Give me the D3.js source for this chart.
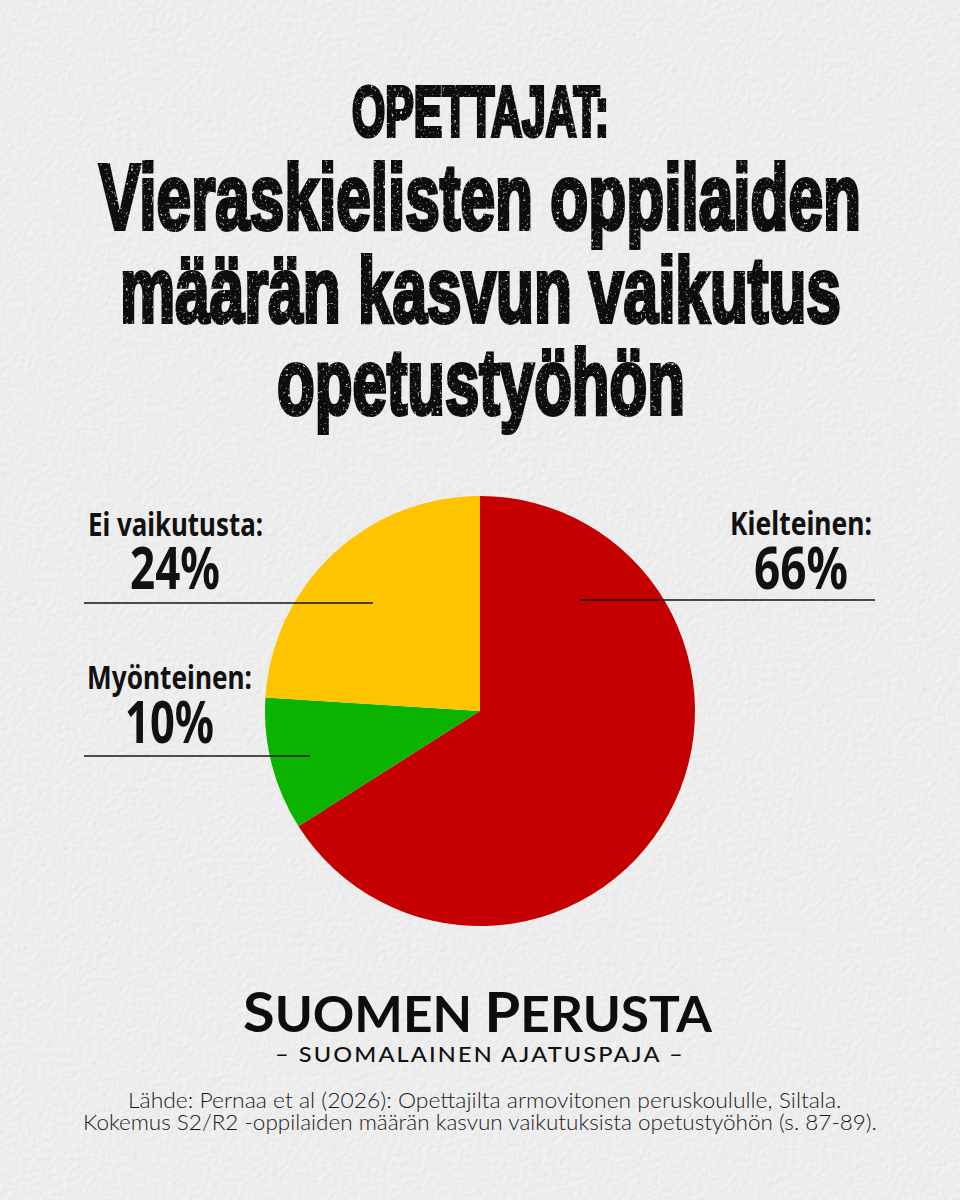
<!DOCTYPE html>
<html>
<head>
<meta charset="utf-8">
<script src="https://cdn.jsdelivr.net/npm/d3@7"></script>
<style>
  html, body { margin: 0; padding: 0; background: #eee; }
  svg { display: block; }
</style>
</head>
<body>
<svg id="chart" width="960" height="1200"></svg>
<script>
// data
const categories = ["Kielteinen", "Myönteinen", "Ei vaikutusta"];
const values = [66, 10, 24];
const sliceColors = ["#c40000", "#09b300", "#fec400"];
const titleKicker = "OPETTAJAT:";
const titleLines = ["Vieraskielisten oppilaiden", "määrän kasvun vaikutus", "opetustyöhön"];
const sourceLines = [
    "Lähde: Pernaa et al (2026): Opettajilta armovitonen peruskoululle, Siltala.",
    "Kokemus S2/R2 -oppilaiden määrän kasvun vaikutuksista opetustyöhön (s. 87-89)."
];

const width = 960, height = 1200;
const svg = d3.select("#chart");
const defs = svg.append("defs");

// paper texture
const paper = defs.append("filter").attr("id", "paper")
    .attr("x", 0).attr("y", 0).attr("width", "100%").attr("height", "100%");
paper.append("feTurbulence").attr("type", "fractalNoise").attr("baseFrequency", 0.2)
    .attr("numOctaves", 4).attr("seed", 7).attr("result", "n");
const light = paper.append("feDiffuseLighting").attr("in", "n").attr("surfaceScale", 0.32)
    .attr("diffuseConstant", 1.09).attr("lighting-color", "#f1f1f1");
light.append("feDistantLight").attr("azimuth", 225).attr("elevation", 62);

// worn print look for the headline
const worn = defs.append("filter").attr("id", "worn")
    .attr("x", "-2%").attr("y", "-5%").attr("width", "104%").attr("height", "110%");
worn.append("feTurbulence").attr("type", "fractalNoise").attr("baseFrequency", 0.35)
    .attr("numOctaves", 2).attr("seed", 3).attr("result", "n");
worn.append("feColorMatrix").attr("in", "n").attr("type", "matrix")
    .attr("values", "0 0 0 0 0  0 0 0 0 0  0 0 0 0 0  0 0 0 -5 4.2").attr("result", "specks");
worn.append("feComposite").attr("in", "SourceGraphic").attr("in2", "specks").attr("operator", "in");

svg.append("rect").attr("width", width).attr("height", height).attr("filter", "url(#paper)");

// squeezes a text into the horizontal span it has in the picture
function fitText(parent, str, x0, x1, baseline, size, font, weight, fill, spacing) {
    const t = parent.append("text")
        .attr("font-family", font).attr("font-size", size).attr("font-weight", weight)
        .attr("letter-spacing", spacing || 0)
        .attr("fill", fill || "#111").text(str);
    const k = (x1 - x0) / t.node().getComputedTextLength();
    t.attr("transform", `translate(${x0},${baseline}) scale(${k},1)`);
    return t;
}

// headline
const headFont = "'Liberation Sans Narrow', sans-serif";
const head = svg.append("g").attr("filter", "url(#worn)");
const headLine = (t, x0, x1, y, size) => fitText(head, t, x0, x1, y, size, headFont, 700, "#0c0c0c")
    .attr("stroke", "#0c0c0c").attr("stroke-width", 3.4)
    .style("vector-effect", "non-scaling-stroke");
headLine(titleKicker, 352, 609, 136, 70);
const titleSpans = [[99, 861, 229, 93], [120, 841, 322, 93], [277, 685, 414, 93]];
titleLines.forEach((t, i) => {
    const s = titleSpans[i];
    headLine(t, s[0], s[1], s[2], s[3]);
});

// pie
const cx = 480, cy = 711, radius = 215;
const pie = d3.pie().sort(null).value(d => d);
const arc = d3.arc().innerRadius(0).outerRadius(radius);
const color = d3.scaleOrdinal().domain(categories).range(sliceColors);

svg.append("g").attr("transform", `translate(${cx},${cy})`)
    .selectAll("path").data(pie(values)).join("path")
    .attr("d", arc)
    .attr("fill", (d, i) => color(categories[i]));

// labels: name span, value span, baselines and leader line, same order as categories
const labelLayout = [
    { name: [730, 872, 535], num: [754, 848, 589], line: [580, 875, 600] },
    { name: [87, 252, 689], num: [125, 214, 743], line: [84, 310, 756] },
    { name: [88, 263, 536], num: [130, 220, 589], line: [84, 373, 603] }
];
const labelFont = "'Noto Sans', 'Open Sans', sans-serif";
const labels = svg.append("g");
categories.forEach((c, i) => {
    const l = labelLayout[i];
    fitText(labels, c + ":", l.name[0], l.name[1], l.name[2], 32, labelFont, 700);
    fitText(labels, values[i] + "%", l.num[0], l.num[1], l.num[2], 59, labelFont, 700);
    labels.append("line")
        .attr("x1", l.line[0]).attr("x2", l.line[1])
        .attr("y1", l.line[2]).attr("y2", l.line[2])
        .attr("stroke", "#141414").attr("stroke-width", 1.6);
});

// logo
const logo = svg.append("text")
    .attr("font-family", "Lato, sans-serif").attr("font-weight", 700).attr("fill", "#0d0d0d");
[["S", 55], ["UOMEN ", 49], ["P", 55], ["ERUSTA", 49]].forEach(p => {
    logo.append("tspan").attr("font-size", p[1]).text(p[0]);
});
logo.attr("transform", `translate(243,1032) scale(${469 / logo.node().getComputedTextLength()},1)`);
fitText(svg, "– SUOMALAINEN AJATUSPAJA –", 275, 685, 1062, 22, "Lato, sans-serif", 500, "#111", 2);

// source
sourceLines.forEach((t, i) => {
    fitText(svg, t, i ? 83 : 128, i ? 877 : 842, i ? 1130 : 1108, 22, "Lato, sans-serif", 300, "#1a1a1a");
});
</script>
</body>
</html>
